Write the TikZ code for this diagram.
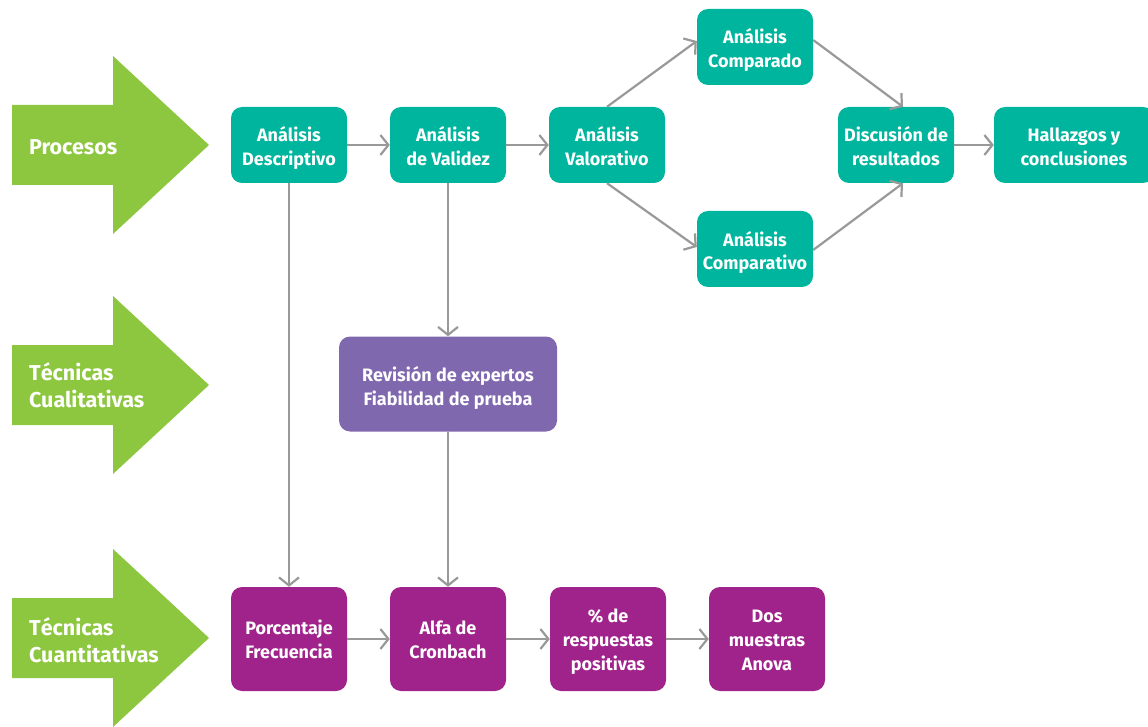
\documentclass[tikz,border=0pt]{standalone}
\usepackage{fontspec}
\setmainfont{Fira Sans}
\usetikzlibrary{arrows.meta}
\definecolor{tgreen}{HTML}{8DC63F}
\definecolor{tteal}{HTML}{00B59E}
\definecolor{tpurple}{HTML}{7F68AE}
\definecolor{tmag}{HTML}{A0228B}
\definecolor{tgray}{HTML}{999999}
\newcommand{\sm}[1]{\smash{#1}}
\tikzset{
  box/.style={rounded corners=11pt, minimum width=116pt, minimum height=76pt, inner sep=2pt,
    align=center, text=white, font=\fontsize{18}{24}\selectfont\bfseries,
    execute at end node={\rule[-5pt]{0pt}{5pt}}},
  twoline/.style={execute at begin node={\rule{0pt}{43pt}}},
  twolinelow/.style={execute at begin node={\rule{0pt}{47pt}}},
  threeline/.style={execute at begin node={\rule{0pt}{67pt}}},
  tealbox/.style={box, twolinelow, fill=tteal},
  magbox/.style={box, fill=tmag, minimum height=104pt},
  purbox/.style={box, twolinelow, fill=tpurple, minimum width=218pt, minimum height=95pt},
  conn/.style={draw=tgray, line width=2.2pt, -{Straight Barb[length=8pt,width=20pt,line width=2.2pt]}},
  bigarrow/.style={fill=tgreen},
  arrlabel/.style={anchor=west, align=left, text=white, inner sep=0pt, font=\fontsize{21.5}{27}\selectfont\bfseries}
}
\begin{document}
\begin{tikzpicture}[x=1pt,y=-1pt]
\useasboundingbox (0,0) rectangle (1148,727);
% green block arrows
\fill[bigarrow] (12,105) -- (113,105) -- (113,56) -- (209,145) -- (113,234) -- (113,185) -- (12,185) -- cycle;
\fill[bigarrow] (12,345) -- (113,345) -- (113,296) -- (209,385) -- (113,474) -- (113,425) -- (12,425) -- cycle;
\fill[bigarrow] (12,598) -- (113,598) -- (113,549) -- (209,638) -- (113,727) -- (113,678) -- (12,678) -- cycle;
\node[arrlabel] (lp) at (29,147) {Procesos};
\node[arrlabel] (lc) at (29,385) {T\sm{é}cnicas\\Cualitativas};
\node[arrlabel] (lq) at (29,640) {T\sm{é}cnicas\\Cuantitativas};
% process boxes
\node[tealbox] (desc) at (289,145) {An\sm{á}lisis\\Descriptivo};
\node[tealbox] (val) at (448,145) {An\sm{á}lisis\\de Validez};
\node[tealbox] (valo) at (607,145) {An\sm{á}lisis\\Valorativo};
\node[tealbox] (cmp) at (755,47) {An\sm{á}lisis\\Comparado};
\node[tealbox] (ctv) at (755,249) {An\sm{á}lisis\\Comparativo};
\node[tealbox] (disc) at (896,145) {Discusi\sm{ó}n de\\resultados};
\node[tealbox, minimum width=160pt] (hall) at (1074,145) {Hallazgos y\\conclusiones};
% qualitative
\node[purbox] (rev) at (448,384) {Revisi\sm{ó}n de expertos\\Fiabilidad de prueba};
% quantitative
\node[magbox, twoline] (por) at (289,639) {Porcentaje\\Frecuencia};
\node[magbox, twoline] (alf) at (448,639) {Alfa de\\Cronbach};
\node[magbox, threeline] (res) at (608,639) {\% de\\respuestas\\positivas};
\node[magbox, threeline] (dos) at (767,639) {Dos\\muestras\\Anova};
% connectors
\draw[conn] (desc.east) -- (val.west);
\draw[conn] (val.east) -- (valo.west);
\draw[conn] (valo.north) -- ([yshift=6pt]cmp.west);
\draw[conn] (valo.south) -- ([yshift=2pt]ctv.west);
\draw[conn] ([yshift=7pt]cmp.east) -- ([xshift=7pt]disc.north);
\draw[conn] ([yshift=-1pt]ctv.east) -- ([xshift=7pt]disc.south);
\draw[conn] (disc.east) -- (hall.west);
\draw[conn] (desc.south) -- (por.north);
\draw[conn] (val.south) -- (rev.north);
\draw[conn] (rev.south) -- (alf.north);
\draw[conn] (por.east) -- (alf.west);
\draw[conn] (alf.east) -- (res.west);
\draw[conn] (res.east) -- (dos.west);
\end{tikzpicture}
\end{document}
